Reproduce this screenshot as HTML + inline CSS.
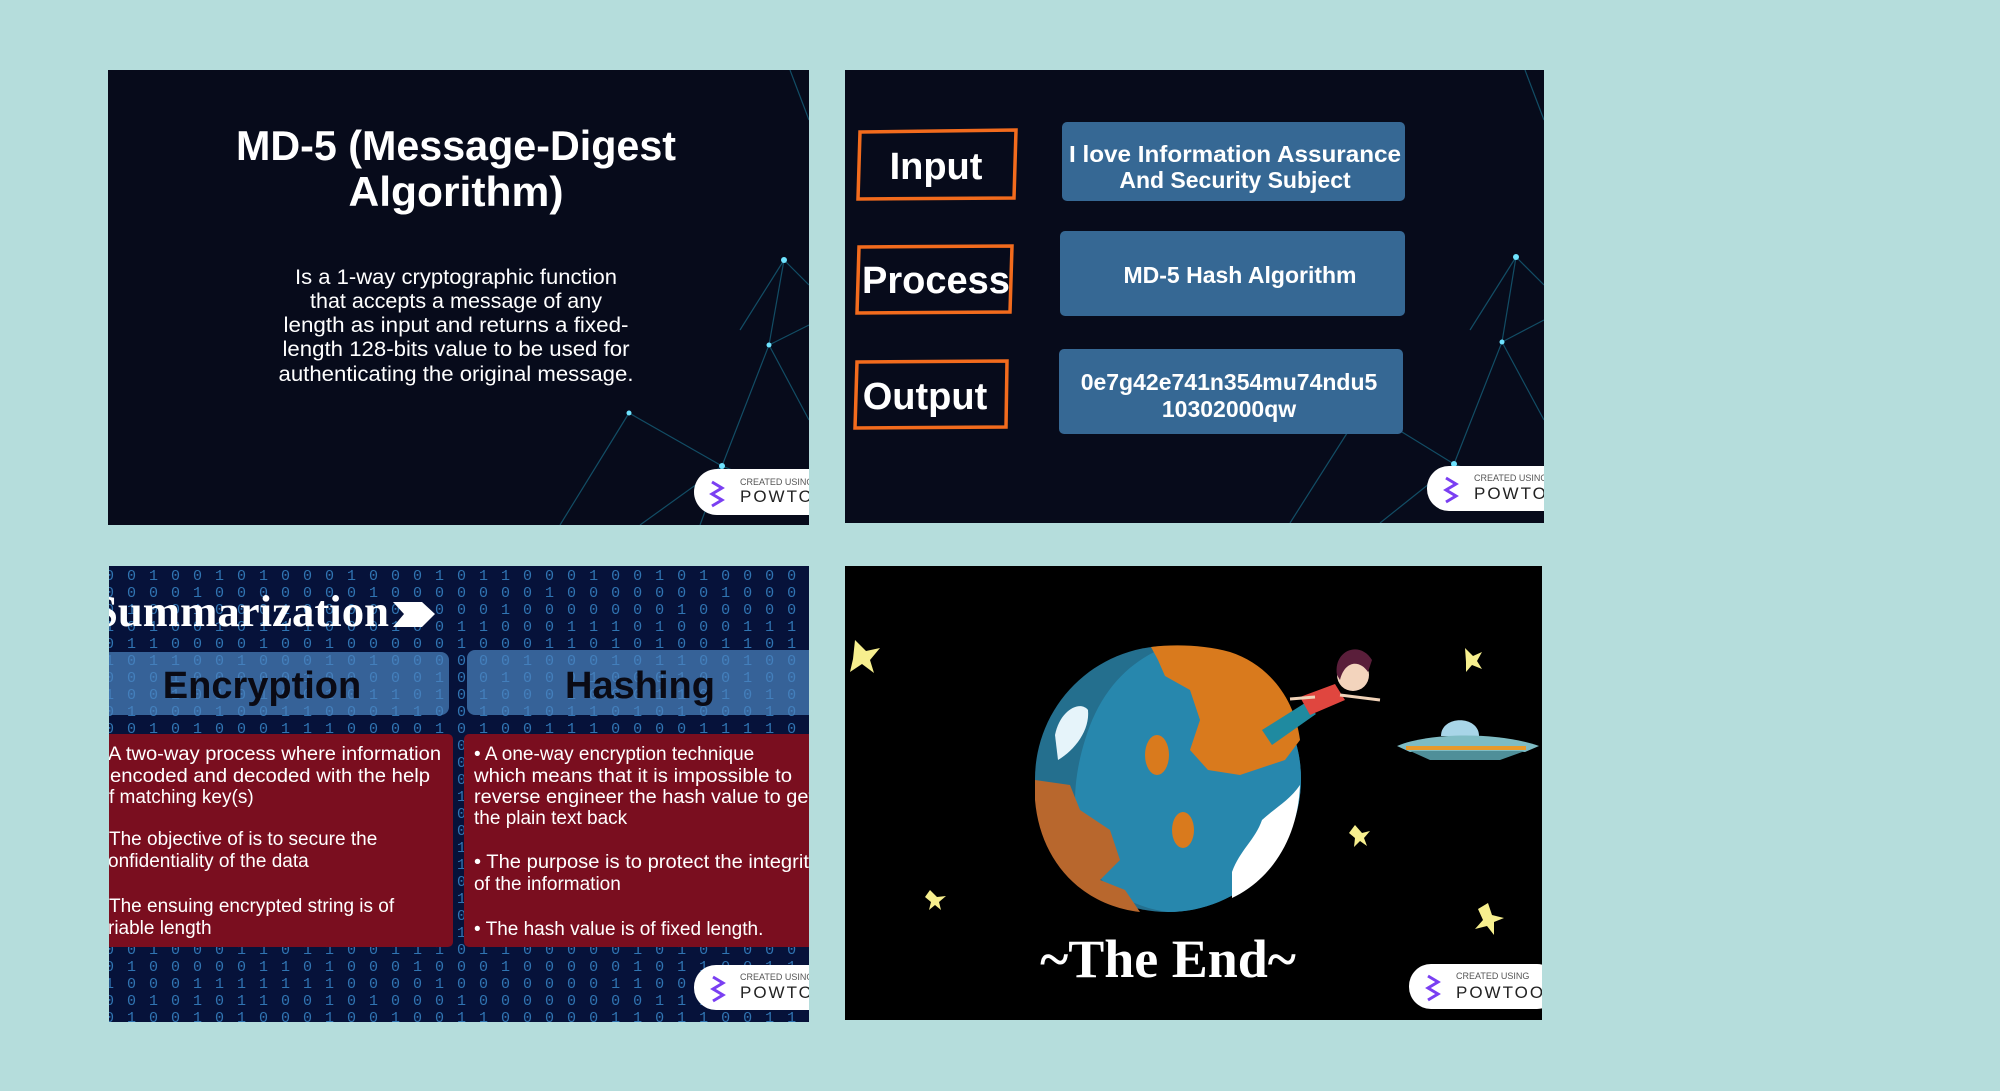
<!DOCTYPE html>
<html><head><meta charset="utf-8"><style>
html,body{margin:0;padding:0;background:#b5dddc;}
svg{display:block}
.ob{font-family:"Liberation Sans",sans-serif;font-weight:bold;fill:#fff}
.bin{font-family:"Liberation Mono",monospace;font-size:15px;fill:#3f95da;opacity:.75;letter-spacing:2px}
.bt{font-family:"Liberation Sans",sans-serif;font-size:19px;fill:#fff}
</style></head><body>
<svg width="2000" height="1091" viewBox="0 0 2000 1091" xmlns="http://www.w3.org/2000/svg">
<defs>
<clipPath id="c1"><rect x="108" y="70" width="701" height="455"/></clipPath>
<clipPath id="c2"><rect x="845" y="70" width="699" height="453"/></clipPath>
<clipPath id="c3"><rect x="109" y="566" width="700" height="456"/></clipPath>
<clipPath id="c4"><rect x="845" y="566" width="697" height="454"/></clipPath>
</defs>
<rect width="2000" height="1091" fill="#b5dddc"/>

<!-- Panel 1 -->
<g clip-path="url(#c1)">
<rect x="108" y="70" width="701" height="455" fill="#070b1b"/>
<g stroke="#1d8fb0" stroke-width="1.2" fill="none" opacity=".5">
<path d="M784 260 L769 345 L722 466 L640 525 M784 260 L809 285 M769 345 L809 325 M769 345 L809 420 M629 413 L722 466 L809 500 M629 413 L560 525 M722 466 L700 525 M784 260 L740 330 M790 70 L809 120"/>
</g>
<g fill="#6fe3ff"><circle cx="784" cy="260" r="3"/><circle cx="769" cy="345" r="2.5"/><circle cx="629" cy="413" r="2.5"/><circle cx="722" cy="466" r="3"/></g>
<text class="ob" x="456" y="160" font-size="42" text-anchor="middle" textLength="440" lengthAdjust="spacingAndGlyphs">MD-5 (Message-Digest</text>
<text class="ob" x="456" y="206" font-size="42" text-anchor="middle" textLength="215" lengthAdjust="spacingAndGlyphs">Algorithm)</text>
<g font-family="Liberation Sans,sans-serif" font-size="21" fill="#fff" text-anchor="middle">
<text x="456" y="284" textLength="322" lengthAdjust="spacingAndGlyphs">Is a 1-way cryptographic function</text>
<text x="456" y="308" textLength="292" lengthAdjust="spacingAndGlyphs">that accepts a message of any</text>
<text x="456" y="332" textLength="345" lengthAdjust="spacingAndGlyphs">length as input and returns a fixed-</text>
<text x="456" y="356" textLength="347" lengthAdjust="spacingAndGlyphs">length 128-bits value to be used for</text>
<text x="456" y="381" textLength="355" lengthAdjust="spacingAndGlyphs">authenticating the original message.</text>
</g>
<rect x="694" y="469" width="140" height="46" rx="23" fill="#fff"/>
<path d="M712 482 l10 6 l-10 6 l10 6 l-10 6" stroke="#7a3ff2" stroke-width="3" fill="none"/>
<text x="740" y="485" font-family="Liberation Sans,sans-serif" font-size="9" fill="#555">CREATED USING</text>
<text x="740" y="502" font-family="Liberation Sans,sans-serif" font-size="17" fill="#222" letter-spacing="2">POWTOON</text>
</g>

<!-- Panel 2 -->
<g clip-path="url(#c2)">
<rect x="845" y="70" width="699" height="453" fill="#070b1b"/>
<g stroke="#1d8fb0" stroke-width="1.2" fill="none" opacity=".5">
<path d="M1516 257 L1502 342 L1454 464 L1380 523 M1516 257 L1544 285 M1502 342 L1544 320 M1502 342 L1544 420 M1363 408 L1454 464 L1544 500 M1363 408 L1290 523 M1516 257 L1470 330 M1525 70 L1544 120"/>
</g>
<g fill="#6fe3ff"><circle cx="1516" cy="257" r="3"/><circle cx="1502" cy="342" r="2.5"/><circle cx="1363" cy="408" r="2.5"/><circle cx="1454" cy="464" r="3"/></g>
<g fill="none" stroke="#f26b1d" stroke-width="3.5">
<path d="M860 132 L1016 130 L1014 198 L858 199 Z"/>
<path d="M859 247 L1012 246 L1010 312 L857 313 Z"/>
<path d="M857 362 L1007 361 L1006 427 L855 428 Z"/>
</g>
<text class="ob" x="936" y="179" font-size="38" text-anchor="middle">Input</text>
<text class="ob" x="936" y="293" font-size="38" text-anchor="middle">Process</text>
<text class="ob" x="925" y="409" font-size="38" text-anchor="middle">Output</text>
<g fill="#366894">
<rect x="1062" y="122" width="343" height="79" rx="5"/>
<rect x="1060" y="231" width="345" height="85" rx="5"/>
<rect x="1059" y="349" width="344" height="85" rx="5"/>
</g>
<text class="ob" x="1235" y="162" font-size="23" text-anchor="middle" textLength="332" lengthAdjust="spacingAndGlyphs">I love Information Assurance</text>
<text class="ob" x="1235" y="188" font-size="23" text-anchor="middle">And Security Subject</text>
<text class="ob" x="1240" y="283" font-size="23" text-anchor="middle">MD-5 Hash Algorithm</text>
<text class="ob" x="1229" y="390" font-size="23" text-anchor="middle">0e7g42e741n354mu74ndu5</text>
<text class="ob" x="1229" y="417" font-size="23" text-anchor="middle">10302000qw</text>
<rect x="1427" y="466" width="140" height="45" rx="22" fill="#fff"/>
<path d="M1446 478 l10 6 l-10 6 l10 6 l-10 6" stroke="#7a3ff2" stroke-width="3" fill="none"/>
<text x="1474" y="481" font-family="Liberation Sans,sans-serif" font-size="9" fill="#555">CREATED USING</text>
<text x="1474" y="499" font-family="Liberation Sans,sans-serif" font-size="17" fill="#222" letter-spacing="2">POWTOON</text>
</g>

<!-- Panel 3 -->
<g clip-path="url(#c3)">
<rect x="109" y="566" width="700" height="456" fill="#06123a"/>
<g class="bin">
<text x="105" y="580">0 0 1 0 0 1 0 1 0 0 0 1 0 0 0 1 0 1 1 0 0 0 1 0 0 1 0 1 0 0 0 0 1 0 0 1 0 1 1 0</text>
<text x="105" y="597">0 0 0 0 1 0 0 0 0 0 0 0 1 0 0 0 0 0 0 0 1 0 0 0 0 0 0 0 1 0 0 0 0 0 0 1 0 0 0 1</text>
<text x="105" y="614">0 1 0 0 1 0 0 0 1 0 0 0 0 0 0 0 0 0 1 0 0 0 0 0 0 0 1 0 0 0 0 0 0 1 0 0 0 0 1 0</text>
<text x="105" y="631">1 0 1 0 0 1 0 1 1 1 0 0 0 1 0 0 1 1 0 0 0 1 1 1 0 1 0 0 0 1 1 1 0 1 1 0 0 0 1 1</text>
<text x="105" y="648">0 1 1 0 0 0 0 1 0 0 1 0 0 0 0 0 1 0 0 0 1 1 0 1 0 1 0 0 1 1 0 1 0 0 0 0 0 0 0 0</text>
<text x="105" y="665">1 0 1 1 0 0 1 0 0 0 1 0 1 0 0 0 0 0 0 1 0 0 0 1 0 1 1 0 0 1 0 0 0 0 1 0 0 0 0 0</text>
<text x="105" y="682">0 0 0 1 0 0 0 0 0 1 0 0 0 0 0 1 0 0 1 0 0 0 1 0 0 0 1 0 0 1 0 0 0 0 0 0 1 0 0 0</text>
<text x="105" y="699">1 0 0 1 0 1 0 1 0 0 1 0 1 1 0 1 0 1 0 0 0 1 0 0 0 1 1 0 1 0 1 0 0 1 0 1 1 0 1 0</text>
<text x="105" y="716">0 1 0 0 0 1 0 0 1 1 0 0 0 1 1 0 0 1 0 1 0 1 1 0 1 0 1 0 0 0 1 0 1 1 0 0 1 0 0 1</text>
<text x="105" y="733">0 0 1 0 1 0 0 0 1 1 1 0 0 0 0 1 0 1 0 0 1 1 1 0 0 0 0 1 1 1 1 0 0 1 0 1 0 1 1 1</text>
<text x="105" y="750">1 0 0 1 0 0 0 0 1 0 1 1 1 0 0 0 0 0 1 0 0 1 0 1 0 0 0 1 1 1 1 0 0 0 1 0 1 0 1 0</text>
<text x="105" y="767">0 1 0 1 1 0 0 1 0 1 0 0 1 1 0 1 0 0 0 1 0 1 0 1 1 0 0 1 0 1 0 0 1 0 0 1 1 0 1 0</text>
<text x="105" y="784">1 0 0 0 1 0 1 1 0 0 1 0 0 0 1 1 0 1 0 0 0 0 1 0 1 1 0 0 1 0 1 0 0 0 1 0 1 1 0 0</text>
<text x="105" y="801">0 0 1 0 0 1 0 0 1 0 1 1 0 1 0 0 1 0 1 1 0 1 0 0 0 1 0 1 0 0 1 0 1 0 0 1 0 0 1 1</text>
<text x="105" y="818">1 1 0 0 1 0 0 1 0 1 0 0 1 0 0 1 0 1 0 0 1 0 1 1 0 0 1 0 0 1 0 1 1 0 0 0 1 0 0 1</text>
<text x="105" y="835">0 1 0 1 0 0 1 0 1 0 1 0 0 1 1 0 0 0 1 0 1 0 0 1 0 1 0 0 1 0 0 1 0 1 1 0 0 1 0 0</text>
<text x="105" y="852">1 0 1 0 0 1 0 1 0 0 1 0 1 1 0 0 1 0 0 1 0 0 1 0 1 0 1 0 0 1 0 0 1 0 0 1 0 1 1 0</text>
<text x="105" y="869">0 0 1 0 1 0 0 1 0 1 0 1 0 0 1 0 1 1 0 0 1 0 0 1 0 1 0 0 1 0 1 0 0 1 0 0 1 0 0 1</text>
<text x="105" y="886">1 0 0 1 0 1 1 0 0 1 0 0 1 0 0 1 0 0 1 1 0 1 0 0 1 0 1 0 0 1 0 1 0 0 1 0 1 0 1 0</text>
<text x="105" y="903">0 1 0 0 1 0 0 1 0 1 0 1 0 0 1 0 1 0 0 1 0 0 1 0 1 1 0 0 1 0 0 1 0 1 0 0 1 1 0 0</text>
<text x="105" y="920">1 0 1 0 0 1 0 0 1 0 1 0 0 1 0 1 0 0 1 0 1 0 0 1 0 0 1 0 1 0 0 1 0 1 0 1 0 0 1 0</text>
<text x="105" y="937">0 0 1 1 0 0 1 0 1 0 0 1 0 1 0 0 1 0 1 0 0 1 0 1 0 1 0 0 1 0 1 0 0 1 0 0 1 0 1 1</text>
<text x="105" y="954">0 0 1 0 0 0 1 1 0 1 1 0 0 1 1 1 0 1 1 0 0 0 0 0 1 0 1 0 1 0 0 0 1 0 1 0 1 0 1 1</text>
<text x="105" y="971">0 1 0 0 0 0 0 1 1 0 1 0 0 0 1 0 0 0 1 0 0 0 0 0 1 0 1 1 0 0 1 1 0 1 0 1 0 1 0 1</text>
<text x="105" y="988">1 0 0 0 1 1 1 1 1 1 1 0 0 0 0 1 0 0 0 0 0 0 0 1 1 0 0 1 0 0 0 0 1 0 1 0 0 0 1 1</text>
<text x="105" y="1005">0 0 1 0 1 0 1 1 0 0 1 0 1 0 0 0 1 0 0 0 0 0 0 0 0 1 1 1 0 0 1 0 1 1 0 0 1 1 0 1</text>
<text x="105" y="1022">0 1 0 0 1 0 1 0 0 0 1 0 0 1 0 0 1 1 0 0 0 0 0 1 1 0 1 1 0 0 1 1 0 1 0 1 0 1 0 0</text>
</g>
<text x="93" y="626" font-family="Liberation Serif,serif" font-weight="bold" font-size="44" fill="#fff" textLength="296" lengthAdjust="spacingAndGlyphs">Summarization</text>
<path d="M393 602 L422 602 L435 614 L422 627 L393 627 L404 614 Z" fill="#fff"/>
<rect x="90" y="652" width="359" height="63" rx="8" fill="#4b84c0" opacity=".7"/>
<rect x="467" y="650" width="360" height="65" rx="8" fill="#4b84c0" opacity=".7"/>
<text x="262" y="698" font-family="Liberation Sans,sans-serif" font-weight="bold" font-size="38" fill="#0a0a14" text-anchor="middle">Encryption</text>
<text x="640" y="698" font-family="Liberation Sans,sans-serif" font-weight="bold" font-size="38" fill="#0a0a14" text-anchor="middle">Hashing</text>
<rect x="90" y="734" width="363" height="213" rx="5" fill="#7a0e1f"/>
<rect x="464" y="734" width="360" height="213" rx="5" fill="#7a0e1f"/>
<g class="bt">
<text x="108" y="760" textLength="333" lengthAdjust="spacingAndGlyphs">A two-way process where information</text>
<text x="110" y="782" textLength="320" lengthAdjust="spacingAndGlyphs">encoded and decoded with the help</text>
<text x="109" y="803">f matching key(s)</text>
<text x="109" y="845">The objective of is to secure the</text>
<text x="108" y="867">onfidentiality of the data</text>
<text x="109" y="912">The ensuing encrypted string is of</text>
<text x="108" y="934">riable length</text>
<text x="474" y="760">• A one-way encryption technique</text>
<text x="474" y="782" textLength="318" lengthAdjust="spacingAndGlyphs">which means that it is impossible to</text>
<text x="474" y="803" textLength="340" lengthAdjust="spacingAndGlyphs">reverse engineer the hash value to get</text>
<text x="474" y="824">the plain text back</text>
<text x="474" y="868" textLength="345" lengthAdjust="spacingAndGlyphs">• The purpose is to protect the integrity</text>
<text x="474" y="890">of the information</text>
<text x="474" y="935">• The hash value is of fixed length.</text>
</g>
<rect x="694" y="965" width="140" height="45" rx="22" fill="#fff"/>
<path d="M713 977 l10 6 l-10 6 l10 6 l-10 6" stroke="#7a3ff2" stroke-width="3" fill="none"/>
<text x="740" y="980" font-family="Liberation Sans,sans-serif" font-size="9" fill="#555">CREATED USING</text>
<text x="740" y="998" font-family="Liberation Sans,sans-serif" font-size="17" fill="#222" letter-spacing="2">POWTOON</text>
</g>

<!-- Panel 4 -->
<g clip-path="url(#c4)">
<rect x="845" y="566" width="697" height="454" fill="#000"/>
<g fill="#f7ef8e">
<path d="M855 640 L866 651 L880 648 L870 660 L874 673 L862 664 L850 672 L853 659 Z"/>
<path d="M1465 648 L1473 656 L1482 652 L1477 661 L1482 669 L1472 665 L1466 672 L1466 662 Z"/>
<path d="M1355 825 L1362 833 L1370 831 L1364 838 L1367 846 L1360 841 L1354 847 L1355 838 L1349 833 Z"/>
<path d="M930 890 L937 897 L946 896 L939 902 L941 910 L935 905 L929 910 L931 902 L925 897 Z"/>
<path d="M1488 903 L1492 915 L1504 918 L1494 922 L1494 935 L1487 926 L1475 929 L1483 920 L1478 909 Z"/>
</g>
<circle cx="1168" cy="779" r="133" fill="#246f8e"/>
<path d="M1168 646 A133 133 0 0 1 1301 779 A133 133 0 0 1 1168 912 C1080 900 1060 820 1085 740 C1100 690 1130 660 1168 646 Z" fill="#2787ad"/>
<path d="M1151 647 L1158 660 L1165 676 L1190 690 L1200 720 L1190 750 L1208 770 L1240 775 L1285 760 L1300 740 C1295 700 1270 665 1230 652 C1205 645 1175 644 1151 647 Z" fill="#d97a1d"/>
<path d="M1035 780 L1070 785 L1080 810 L1110 830 L1120 860 L1100 880 L1125 890 L1140 912 C1080 905 1040 860 1035 800 Z" fill="#b8672d"/>
<ellipse cx="1157" cy="755" rx="12" ry="20" fill="#d97a1d"/>
<ellipse cx="1183" cy="830" rx="11" ry="18" fill="#d97a1d"/>
<path d="M1055 735 C1060 710 1080 700 1088 710 C1090 730 1075 750 1058 760 Z" fill="#e6f4fa"/>
<path d="M1232 872 C1240 850 1255 840 1262 820 C1275 808 1290 800 1300 785 C1298 840 1270 880 1232 898 Z" fill="#fff"/>
<path d="M1262 730 L1305 703 L1316 714 L1272 745 Z" fill="#1f8aa0"/>
<path d="M1300 697 L1335 684 L1345 700 L1310 715 Z" fill="#e0463f"/>
<path d="M1315 697 L1290 699 M1340 695 L1380 700" stroke="#f0d2b8" stroke-width="3"/>
<circle cx="1353" cy="675" r="16" fill="#f3d4bd"/>
<path d="M1337 675 C1333 650 1360 640 1372 660 L1368 672 C1360 660 1345 660 1340 680 Z" fill="#5a1e3a"/>
<path d="M1441 736 C1441 715 1479 715 1479 736 Z" fill="#a8d5e8"/>
<path d="M1397 746 C1430 732 1500 732 1539 746 L1525 752 L1410 752 Z" fill="#7fbcc4"/>
<rect x="1406" y="746" width="120" height="4" fill="#e89a2c"/>
<path d="M1410 751 L1525 751 L1500 760 L1430 760 Z" fill="#4f8f99"/>
<text x="1168" y="977" font-family="Liberation Serif,serif" font-weight="bold" font-size="54" fill="#fff" text-anchor="middle">~The End~</text>
<rect x="1409" y="964" width="150" height="45" rx="22" fill="#fff"/>
<path d="M1428 976 l10 6 l-10 6 l10 6 l-10 6" stroke="#7a3ff2" stroke-width="3" fill="none"/>
<text x="1456" y="979" font-family="Liberation Sans,sans-serif" font-size="9" fill="#555">CREATED USING</text>
<text x="1456" y="998" font-family="Liberation Sans,sans-serif" font-size="17" fill="#222" letter-spacing="2">POWTOON</text>
</g>
</svg>
</body></html>
